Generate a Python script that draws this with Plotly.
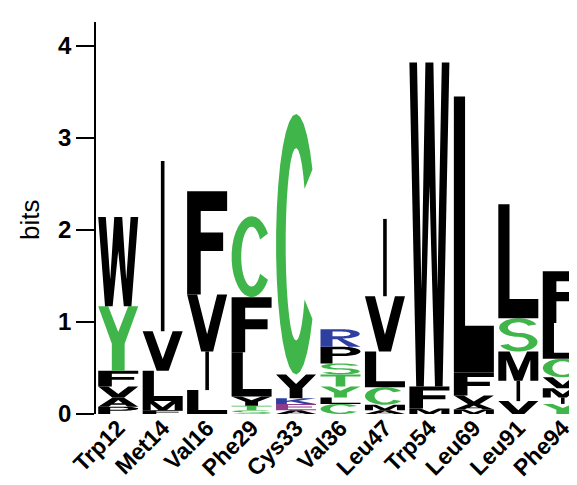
import numpy as np
import plotly.graph_objects as go

positions = ["Trp12", "Met14", "Val16", "Phe29", "Cys33", "Val36",
             "Leu47", "Trp54", "Leu69", "Leu91", "Phe94"]

# letters per position, stacked bottom -> top
letters_Trp12 = ["P", "A", "V", "F", "Y", "W"]
heights_Trp12 = [0.08, 0.10, 0.12, 0.17, 0.70, 0.97]

letters_Met14 = ["F", "M", "L", "V", "I"]
heights_Met14 = [0.04, 0.10, 0.33, 0.43, 1.85]

letters_Val16 = ["L", "I", "V", "F"]
heights_Val16 = [0.26, 0.42, 0.62, 1.12]

letters_Phe29 = ["S", "T", "Y", "L", "F", "C"]
heights_Phe29 = [0.04, 0.05, 0.10, 0.48, 0.60, 0.88]

letters_Cys33 = ["A", "E", "K", "Y", "C"]
heights_Cys33 = [0.04, 0.07, 0.06, 0.26, 2.83]

letters_Val36 = ["C", "L", "Y", "T", "S", "P", "R"]
heights_Val36 = [0.11, 0.07, 0.12, 0.13, 0.12, 0.18, 0.19]

letters_Leu47 = ["A", "M", "C", "L", "V", "I"]
heights_Leu47 = [0.04, 0.06, 0.19, 0.39, 0.60, 0.84]

letters_Trp54 = ["M", "F", "W"]
heights_Trp54 = [0.06, 0.24, 3.52]

letters_Leu69 = ["M", "A", "V", "F", "L"]
heights_Leu69 = [0.05, 0.06, 0.09, 0.25, 3.00]

letters_Leu91 = ["V", "I", "M", "S", "L"]
heights_Leu91 = [0.14, 0.22, 0.32, 0.36, 1.24]

letters_Phe94 = ["Y", "I", "M", "V", "C", "L", "F"]
heights_Phe94 = [0.11, 0.07, 0.10, 0.12, 0.20, 0.39, 0.56]

all_letters = [letters_Trp12, letters_Met14, letters_Val16, letters_Phe29,
               letters_Cys33, letters_Val36, letters_Leu47, letters_Trp54,
               letters_Leu69, letters_Leu91, letters_Phe94]
all_heights = [heights_Trp12, heights_Met14, heights_Val16, heights_Phe29,
               heights_Cys33, heights_Val36, heights_Leu47, heights_Trp54,
               heights_Leu69, heights_Leu91, heights_Phe94]

y_ticks = [0, 1, 2, 3, 4]

# ---------------- style ----------------
BLACK = "#000000"
GREEN = "#3fb54a"
BLUE = "#2e3f9f"
PURPLE = "#8e3b8a"
letter_color = {"A": BLACK, "V": BLACK, "L": BLACK, "I": BLACK, "P": BLACK,
                "W": BLACK, "F": BLACK, "M": BLACK,
                "S": GREEN, "T": GREEN, "Y": GREEN, "C": GREEN,
                "K": BLUE, "R": BLUE, "H": BLUE,
                "D": PURPLE, "E": PURPLE}
# residues drawn black in the original at these stack slots
black_override = {("Phe29", "Y"), ("Cys33", "Y")}

COL_W = 0.9
FONT = "Liberation Sans, Arial, Helvetica, sans-serif"


def arc(cx, cy, rx, ry, a0, a1, n=28):
    t = np.radians(np.linspace(a0, a1, n))
    return list(zip(cx + rx * np.cos(t), cy + ry * np.sin(t)))


# glyph outlines in a unit box (x 0..1, y 0..1)
GLYPHS = {
    "W": [[(0, 1), (0.19, 1), (0.3, 0.3), (0.4, 1), (0.6, 1), (0.7, 0.3),
           (0.81, 1), (1, 1), (0.83, 0), (0.64, 0), (0.5, 0.62), (0.36, 0),
           (0.17, 0)]],
    "Y": [[(0, 1), (0.25, 1), (0.5, 0.6), (0.75, 1), (1, 1), (0.66, 0.42),
           (0.66, 0), (0.34, 0), (0.34, 0.42)]],
    "V": [[(0, 1), (0.25, 1), (0.5, 0.3), (0.75, 1), (1, 1), (0.65, 0),
           (0.35, 0)]],
    "F": [[(0, 0), (0, 1), (1, 1), (1, 0.81), (0.34, 0.81), (0.34, 0.6),
           (0.9, 0.6), (0.9, 0.42), (0.34, 0.42), (0.34, 0)]],
    "E": [[(0, 0), (0, 1), (1, 1), (1, 0.83), (0.3, 0.83), (0.3, 0.59),
           (0.9, 0.59), (0.9, 0.42), (0.3, 0.42), (0.3, 0.17), (1, 0.17),
           (1, 0)]],
    "L": [[(0, 0), (0, 1), (0.28, 1), (0.28, 0.17), (1, 0.17), (1, 0)]],
    "I": [[(0.455, 0), (0.455, 1), (0.545, 1), (0.545, 0)]],
    "T": [[(0, 1), (1, 1), (1, 0.82), (0.62, 0.82), (0.62, 0), (0.38, 0),
           (0.38, 0.82), (0, 0.82)]],
    "M": [[(0, 0), (0, 1), (0.28, 1), (0.5, 0.34), (0.72, 1), (1, 1), (1, 0),
           (0.8, 0), (0.8, 0.72), (0.6, 0), (0.4, 0), (0.2, 0.72), (0.2, 0)]],
    "K": [[(0, 0), (0, 1), (0.27, 1), (0.27, 0.58), (0.68, 1), (1, 1),
           (0.56, 0.58), (1, 0), (0.7, 0), (0.38, 0.44), (0.27, 0.33),
           (0.27, 0)]],
    "A": [[(0, 0), (0.36, 1), (0.64, 1), (1, 0), (0.74, 0), (0.67, 0.2),
           (0.33, 0.2), (0.26, 0)],
          [(0.39, 0.36), (0.61, 0.36), (0.5, 0.72)]],
    "C": [arc(0.5, 0.5, 0.5, 0.5, 35, 325) + arc(0.5, 0.5, 0.26, 0.37, 325, 35)],
    "S": [arc(0.5, 0.72, 0.48, 0.28, 20, 270) + arc(0.5, 0.28, 0.26, 0.16, 90, -160)
          + arc(0.5, 0.28, 0.48, 0.28, -160, 90) + arc(0.5, 0.72, 0.26, 0.16, 270, 20)],
    "P": [[(0, 0), (0, 1)] + arc(0.55, 0.72, 0.45, 0.28, 90, -90) + [(0.3, 0.44), (0.3, 0)],
          [(0.3, 0.59)] + arc(0.55, 0.72, 0.2, 0.13, -90, 90) + [(0.3, 0.85)]],
    "R": [[(0, 0), (0, 1)] + arc(0.55, 0.74, 0.43, 0.26, 90, -90)
          + [(1.0, 0.0), (0.7, 0.0), (0.42, 0.43), (0.3, 0.43), (0.3, 0)],
          [(0.3, 0.61)] + arc(0.55, 0.74, 0.2, 0.13, -90, 90) + [(0.3, 0.87)]],
}


def glyph_path(letter, xc, y0, h):
    parts = []
    for poly in GLYPHS[letter]:
        pts = ["%.4f,%.4f" % (xc - COL_W / 2 + gx * COL_W, y0 + gy * h) for gx, gy in poly]
        parts.append("M " + " L ".join(pts) + " Z")
    return " ".join(parts)


shapes = []
hx, hy, htext = [], [], []
for i, (name, lets, hts) in enumerate(zip(positions, all_letters, all_heights)):
    xc = i + 1
    y0 = 0.0
    for let, h in zip(lets, hts):
        color = BLACK if (name, let) in black_override else letter_color[let]
        shapes.append(dict(type="path", xref="x", yref="y",
                           path=glyph_path(let, xc, y0, h),
                           fillcolor=color, fillrule="evenodd",
                           line=dict(width=0), layer="above"))
        hx.append(xc)
        hy.append(y0 + h / 2)
        htext.append(f"{name}: {let} {h:.2f} bits")
        y0 += h

fig = go.Figure()
fig.add_trace(go.Scatter(x=hx, y=hy, mode="markers", hovertext=htext,
                         hoverinfo="text", marker=dict(size=10, opacity=0),
                         showlegend=False))

fig.update_layout(
    template="none",
    width=577, height=485,
    margin=dict(l=88, r=0, t=14, b=79),
    paper_bgcolor="white", plot_bgcolor="white",
    shapes=shapes,
    showlegend=False,
    xaxis=dict(range=[0.5, 11.5], tickvals=list(range(1, len(positions) + 1)),
               ticktext=positions, tickangle=-45, showgrid=False,
               zeroline=False, showline=False, ticks="", automargin=False,
               ticklabelstandoff=-5,
               tickfont=dict(family=FONT, size=23, color="black", weight="bold")),
    yaxis=dict(range=[0, 4.26], tickvals=y_ticks,
               ticktext=[str(v) for v in y_ticks],
               showgrid=False, zeroline=False, showline=True,
               linecolor="black", linewidth=1.5,
               ticks="outside", ticklen=18, tickwidth=1.5, tickcolor="black",
               automargin=False,
               tickfont=dict(family=FONT, size=24, color="black", weight="bold")),
    annotations=[dict(text="bits", textangle=-90, showarrow=False,
                      xref="paper", yref="paper",
                      x=(22 - 88) / 489, y=(406 - 212) / 392,
                      xanchor="center", yanchor="middle",
                      font=dict(family=FONT, size=26, color="black"))],
)

fig.write_html("out.html")
